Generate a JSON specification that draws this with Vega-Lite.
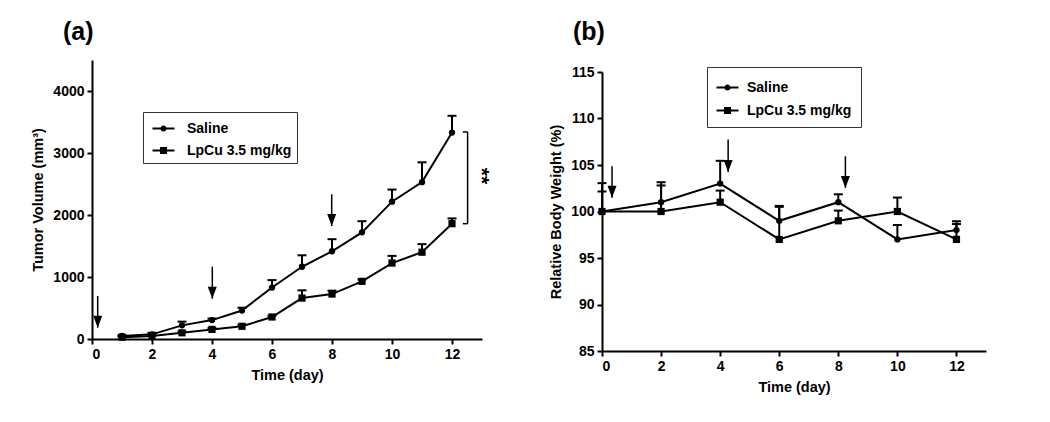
{
  "$schema": "https://vega.github.io/schema/vega-lite/v6.json",
  "background": "white",
  "padding": {"left": 30, "top": 20, "right": 5, "bottom": 5},
  "spacing": 56,
  "config": {
    "font": "Liberation Sans",
    "view": {"stroke": null},
    "axis": {
      "grid": false,
      "domainColor": "black", "domainWidth": 2,
      "tickColor": "black", "tickWidth": 2, "tickSize": 5,
      "labelFont": "Liberation Sans", "labelFontWeight": "bold", "labelFontSize": 14, "labelColor": "black", "labelPadding": 3,
      "titleFont": "Liberation Sans", "titleFontWeight": "bold", "titleFontSize": 14.5, "titleColor": "black", "titlePadding": 7
    },
    "title": {"font": "Liberation Sans", "fontWeight": "bold", "fontSize": 25, "color": "black"},
    "legend": {
      "labelFont": "Liberation Sans", "labelFontWeight": "bold", "labelFontSize": 14, "labelColor": "black",
      "strokeColor": "#333333", "symbolFillColor": "black", "symbolStrokeColor": "black", "symbolStrokeWidth": 0.5, "symbolOpacity": 1
    }
  },
  "datasets": {
    "growth": [
      {"series": "Saline", "day": 1, "mean": 50, "upper": 60},
      {"series": "Saline", "day": 2, "mean": 75, "upper": 100},
      {"series": "Saline", "day": 3, "mean": 220, "upper": 280},
      {"series": "Saline", "day": 4, "mean": 305, "upper": 330},
      {"series": "Saline", "day": 5, "mean": 460, "upper": 505},
      {"series": "Saline", "day": 6, "mean": 830, "upper": 950},
      {"series": "Saline", "day": 7, "mean": 1165, "upper": 1350},
      {"series": "Saline", "day": 8, "mean": 1415, "upper": 1610},
      {"series": "Saline", "day": 9, "mean": 1720, "upper": 1900},
      {"series": "Saline", "day": 10, "mean": 2215, "upper": 2410},
      {"series": "Saline", "day": 11, "mean": 2530, "upper": 2850},
      {"series": "Saline", "day": 12, "mean": 3330, "upper": 3600},
      {"series": "LpCu 3.5 mg/kg", "day": 1, "mean": 30, "upper": 40},
      {"series": "LpCu 3.5 mg/kg", "day": 2, "mean": 50, "upper": 60},
      {"series": "LpCu 3.5 mg/kg", "day": 3, "mean": 100, "upper": 120},
      {"series": "LpCu 3.5 mg/kg", "day": 4, "mean": 155, "upper": 175},
      {"series": "LpCu 3.5 mg/kg", "day": 5, "mean": 205, "upper": 230},
      {"series": "LpCu 3.5 mg/kg", "day": 6, "mean": 355, "upper": 375},
      {"series": "LpCu 3.5 mg/kg", "day": 7, "mean": 660, "upper": 785},
      {"series": "LpCu 3.5 mg/kg", "day": 8, "mean": 725, "upper": 780},
      {"series": "LpCu 3.5 mg/kg", "day": 9, "mean": 930, "upper": 960},
      {"series": "LpCu 3.5 mg/kg", "day": 10, "mean": 1225, "upper": 1340},
      {"series": "LpCu 3.5 mg/kg", "day": 11, "mean": 1400, "upper": 1530},
      {"series": "LpCu 3.5 mg/kg", "day": 12, "mean": 1860, "upper": 1945}
    ],
    "body": [
      {"series": "Saline", "day": 0, "mean": 100, "upper": 103.05},
      {"series": "Saline", "day": 2, "mean": 101, "upper": 103.15},
      {"series": "Saline", "day": 4, "mean": 103, "upper": 105.45},
      {"series": "Saline", "day": 6, "mean": 99, "upper": 100.6},
      {"series": "Saline", "day": 8, "mean": 101, "upper": 101.85},
      {"series": "Saline", "day": 10, "mean": 97, "upper": 98.55},
      {"series": "Saline", "day": 12, "mean": 98, "upper": 98.95},
      {"series": "LpCu 3.5 mg/kg", "day": 0, "mean": 100, "upper": 102.15},
      {"series": "LpCu 3.5 mg/kg", "day": 2, "mean": 100, "upper": 102.8},
      {"series": "LpCu 3.5 mg/kg", "day": 4, "mean": 101, "upper": 102.25},
      {"series": "LpCu 3.5 mg/kg", "day": 6, "mean": 97, "upper": 100.5},
      {"series": "LpCu 3.5 mg/kg", "day": 8, "mean": 99, "upper": 100.1},
      {"series": "LpCu 3.5 mg/kg", "day": 10, "mean": 100, "upper": 101.5},
      {"series": "LpCu 3.5 mg/kg", "day": 12, "mean": 97, "upper": 98.65}
    ],
    "arrowsA": [
      {"day": 0.19, "top": 694, "tip": 182},
      {"day": 4.01, "top": 1166, "tip": 650},
      {"day": 7.99, "top": 2334, "tip": 1823}
    ],
    "arrowsB": [
      {"day": 0.34, "top": 104.87, "tip": 101.47},
      {"day": 4.27, "top": 107.73, "tip": 104.26},
      {"day": 8.24, "top": 105.94, "tip": 102.54}
    ],
    "bracket": [
      {"x1": 12.52, "x2": 12.52, "y1": 1860, "y2": 3340},
      {"x1": 12.36, "x2": 12.52, "y1": 3340, "y2": 3340},
      {"x1": 12.36, "x2": 12.52, "y1": 1860, "y2": 1860}
    ],
    "stars": [
      {"label": "**", "day": 12.95, "value": 2630}
    ]
  },
  "resolve": {"scale": {"x": "independent", "y": "independent", "shape": "independent"}, "legend": {"shape": "independent"}},
  "hconcat": [
    {
      "width": 390,
      "height": 279,
      "title": {"text": "(a)", "anchor": "start", "frame": "group", "dx": -29, "offset": 15},
      "data": {"name": "growth"},
      "layer": [
        {
          "mark": {"type": "line", "strokeWidth": 2, "color": "black"},
          "encoding": {
            "x": {"field": "day", "type": "quantitative", "title": "Time (day)", "scale": {"domain": [0, 13], "nice": false}, "axis": {"values": [0, 2, 4, 6, 8, 10, 12], "format": "d"}},
            "y": {"field": "mean", "type": "quantitative", "title": "Tumor Volume (mm³)", "scale": {"domain": [0, 4500], "nice": false}, "axis": {"values": [0, 1000, 2000, 3000, 4000], "format": "d"}},
            "detail": {"field": "series"}
          }
        },
        {
          "mark": {"type": "rule", "strokeWidth": 2, "color": "black"},
          "encoding": {
            "x": {"field": "day", "type": "quantitative", "title": "Time (day)"},
            "y": {"field": "mean", "type": "quantitative", "title": "Tumor Volume (mm³)"},
            "y2": {"field": "upper"}
          }
        },
        {
          "mark": {"type": "tick", "orient": "horizontal", "size": 9, "thickness": 2, "color": "black", "opacity": 1},
          "encoding": {
            "x": {"field": "day", "type": "quantitative", "title": "Time (day)"},
            "y": {"field": "upper", "type": "quantitative", "title": "Tumor Volume (mm³)"}
          }
        },
        {
          "transform": [{"filter": "datum.series === 'Saline'"}],
          "mark": {"type": "point", "shape": "circle", "filled": true, "size": 40, "color": "black", "opacity": 1},
          "encoding": {
            "x": {"field": "day", "type": "quantitative", "title": "Time (day)"},
            "y": {"field": "mean", "type": "quantitative", "title": "Tumor Volume (mm³)"}
          }
        },
        {
          "transform": [{"filter": "datum.series !== 'Saline'"}],
          "mark": {"type": "point", "shape": "square", "filled": true, "size": 52, "color": "black", "opacity": 1},
          "encoding": {
            "x": {"field": "day", "type": "quantitative", "title": "Time (day)"},
            "y": {"field": "mean", "type": "quantitative", "title": "Tumor Volume (mm³)"}
          }
        },
        {
          "transform": [{"filter": "false"}],
          "mark": {"type": "point", "filled": true, "size": 484, "color": "black", "opacity": 1},
          "encoding": {
            "x": {"field": "day", "type": "quantitative", "title": "Time (day)"},
            "y": {"field": "mean", "type": "quantitative", "title": "Tumor Volume (mm³)"},
            "shape": {
              "field": "series", "type": "nominal",
              "scale": {"domain": ["Saline", "LpCu 3.5 mg/kg"], "range": ["M-1,-0.09L1,-0.09L1,0.09L-1,0.09Z M-0.28,0A0.28,0.28 0 1,1 0.28,0A0.28,0.28 0 1,1 -0.28,0Z", "M-1,-0.09L1,-0.09L1,0.09L-1,0.09Z M-0.32,-0.32L0.32,-0.32L0.32,0.32L-0.32,0.32Z"]},
              "legend": {"title": null, "orient": "none", "legendX": 51, "legendY": 52, "padding": 5, "symbolOffset": 4, "labelOffset": 12, "symbolSize": 484, "rowPadding": 3}
            }
          }
        },
        {
          "data": {"name": "arrowsA"},
          "mark": {"type": "rule", "strokeWidth": 1.5, "color": "black"},
          "encoding": {
            "x": {"field": "day", "type": "quantitative", "title": "Time (day)"},
            "y": {"field": "top", "type": "quantitative", "title": "Tumor Volume (mm³)"},
            "y2": {"field": "tip"}
          }
        },
        {
          "data": {"name": "arrowsA"},
          "mark": {"type": "point", "shape": "M-0.75,-1L0.75,-1L0,1Z", "filled": true, "size": 144, "yOffset": -6, "color": "black", "opacity": 1},
          "encoding": {
            "x": {"field": "day", "type": "quantitative", "title": "Time (day)"},
            "y": {"field": "tip", "type": "quantitative", "title": "Tumor Volume (mm³)"}
          }
        },
        {
          "data": {"name": "bracket"},
          "mark": {"type": "rule", "strokeWidth": 1.5, "color": "black"},
          "encoding": {
            "x": {"field": "x1", "type": "quantitative", "title": "Time (day)"},
            "x2": {"field": "x2"},
            "y": {"field": "y1", "type": "quantitative", "title": "Tumor Volume (mm³)"},
            "y2": {"field": "y2"}
          }
        },
        {
          "data": {"name": "stars"},
          "mark": {"type": "text", "angle": 90, "fontSize": 21, "fontWeight": "bold", "color": "black", "font": "Liberation Sans"},
          "encoding": {
            "x": {"field": "day", "type": "quantitative", "title": "Time (day)"},
            "y": {"field": "value", "type": "quantitative", "title": "Tumor Volume (mm³)"},
            "text": {"field": "label"}
          }
        }
      ]
    },
    {
      "width": 384,
      "height": 291,
      "title": {"text": "(b)", "anchor": "start", "frame": "group", "dx": -29, "offset": 15},
      "data": {"name": "body"},
      "layer": [
        {
          "mark": {"type": "line", "strokeWidth": 2, "color": "black"},
          "encoding": {
            "x": {"field": "day", "type": "quantitative", "title": "Time (day)", "scale": {"domain": [0, 13], "nice": false}, "axis": {"values": [0, 2, 4, 6, 8, 10, 12], "format": "d"}},
            "y": {"field": "mean", "type": "quantitative", "title": "Relative Body Weight (%)", "scale": {"domain": [85, 115], "nice": false, "zero": false, "range": [291, 12]}, "axis": {"values": [85, 90, 95, 100, 105, 110, 115], "format": "d"}},
            "detail": {"field": "series"}
          }
        },
        {
          "mark": {"type": "rule", "strokeWidth": 2, "color": "black"},
          "encoding": {
            "x": {"field": "day", "type": "quantitative", "title": "Time (day)"},
            "y": {"field": "mean", "type": "quantitative", "title": "Relative Body Weight (%)"},
            "y2": {"field": "upper"}
          }
        },
        {
          "mark": {"type": "tick", "orient": "horizontal", "size": 9, "thickness": 2, "color": "black", "opacity": 1},
          "encoding": {
            "x": {"field": "day", "type": "quantitative", "title": "Time (day)"},
            "y": {"field": "upper", "type": "quantitative", "title": "Relative Body Weight (%)"}
          }
        },
        {
          "transform": [{"filter": "datum.series === 'Saline'"}],
          "mark": {"type": "point", "shape": "circle", "filled": true, "size": 40, "color": "black", "opacity": 1},
          "encoding": {
            "x": {"field": "day", "type": "quantitative", "title": "Time (day)"},
            "y": {"field": "mean", "type": "quantitative", "title": "Relative Body Weight (%)"}
          }
        },
        {
          "transform": [{"filter": "datum.series !== 'Saline'"}],
          "mark": {"type": "point", "shape": "square", "filled": true, "size": 52, "color": "black", "opacity": 1},
          "encoding": {
            "x": {"field": "day", "type": "quantitative", "title": "Time (day)"},
            "y": {"field": "mean", "type": "quantitative", "title": "Relative Body Weight (%)"}
          }
        },
        {
          "transform": [{"filter": "false"}],
          "mark": {"type": "point", "filled": true, "size": 484, "color": "black", "opacity": 1},
          "encoding": {
            "x": {"field": "day", "type": "quantitative", "title": "Time (day)"},
            "y": {"field": "mean", "type": "quantitative", "title": "Relative Body Weight (%)"},
            "shape": {
              "field": "series", "type": "nominal",
              "scale": {"domain": ["Saline", "LpCu 3.5 mg/kg"], "range": ["M-1,-0.09L1,-0.09L1,0.09L-1,0.09Z M-0.28,0A0.28,0.28 0 1,1 0.28,0A0.28,0.28 0 1,1 -0.28,0Z", "M-1,-0.09L1,-0.09L1,0.09L-1,0.09Z M-0.32,-0.32L0.32,-0.32L0.32,0.32L-0.32,0.32Z"]},
              "legend": {"title": null, "orient": "none", "legendX": 105, "legendY": 7, "padding": 9, "symbolOffset": 0, "labelOffset": 8, "symbolSize": 484, "rowPadding": 4}
            }
          }
        },
        {
          "data": {"name": "arrowsB"},
          "mark": {"type": "rule", "strokeWidth": 1.5, "color": "black"},
          "encoding": {
            "x": {"field": "day", "type": "quantitative", "title": "Time (day)"},
            "y": {"field": "top", "type": "quantitative", "title": "Relative Body Weight (%)"},
            "y2": {"field": "tip"}
          }
        },
        {
          "data": {"name": "arrowsB"},
          "mark": {"type": "point", "shape": "M-0.75,-1L0.75,-1L0,1Z", "filled": true, "size": 144, "yOffset": -6, "color": "black", "opacity": 1},
          "encoding": {
            "x": {"field": "day", "type": "quantitative", "title": "Time (day)"},
            "y": {"field": "tip", "type": "quantitative", "title": "Relative Body Weight (%)"}
          }
        }
      ]
    }
  ]
}
